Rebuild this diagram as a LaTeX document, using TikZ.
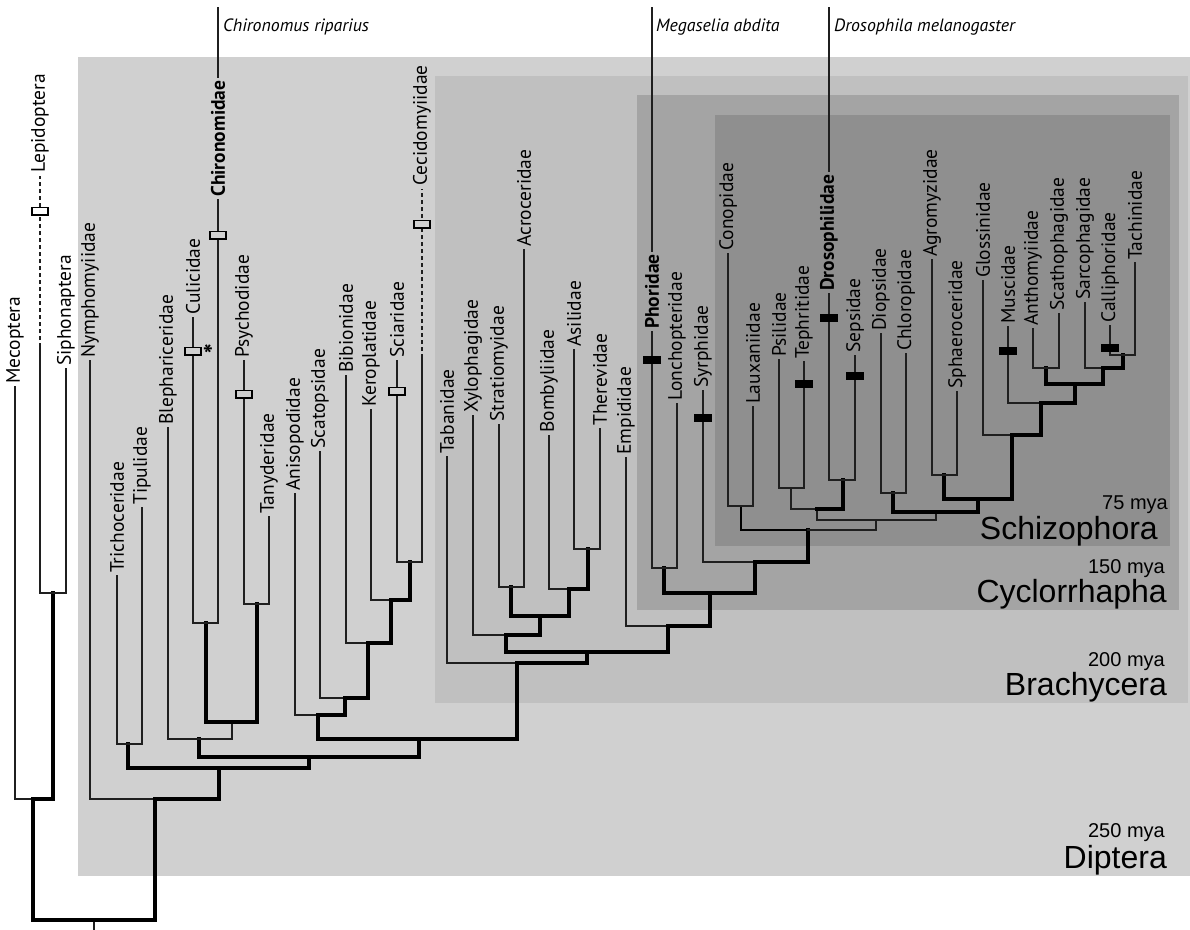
\documentclass[tikz,border=0pt]{standalone}
\usepackage{fontspec}
\setmainfont{PT Sans}
\newfontfamily\arialf{Liberation Sans}
\definecolor{cDip}{HTML}{D0D0D0}
\definecolor{cBra}{HTML}{C0C0C0}
\definecolor{cCyc}{HTML}{A4A4A4}
\definecolor{cSch}{HTML}{8F8F8F}
\begin{document}
\begin{tikzpicture}[x=1pt,y=-1pt,
  tn/.style={line width=1.15pt, draw=black!88, line cap=rect, line join=miter},
  tk/.style={line width=3.6pt, draw=black, line cap=rect, line join=miter},
  md/.style={line width=1.9pt, draw=black, line cap=rect, line join=miter},
  dsh/.style={line width=1.15pt, draw=black!88, dash pattern=on 4pt off 3pt},
  leaf/.style={rotate=90, anchor=west, inner sep=0pt, inner xsep=3pt, font=\fontsize{19.5}{21}\selectfont},
  bleaf/.style={leaf, font=\fontsize{19.5}{21}\selectfont\bfseries},
  species/.style={anchor=base west, inner sep=0pt, font=\fontsize{17.8}{20}\selectfont\itshape},
  obox/.style={draw=black, line width=1.5pt, fill=cDip, minimum width=16pt, minimum height=7.5pt, inner sep=0pt},
  fbox/.style={fill=black, minimum width=18pt, minimum height=8.5pt, inner sep=0pt},
  mya/.style={anchor=base east, inner sep=0pt, font=\arialf\fontsize{20}{22}\selectfont},
  clade/.style={anchor=base east, inner sep=0pt, font=\arialf\fontsize{32}{34}\selectfont}
]
\useasboundingbox (0,0) rectangle (1190,929);
% background clade boxes
\fill[cDip] (78,57) rectangle (1190,876);
\fill[cBra] (435,76) rectangle (1188,703);
\fill[cCyc] (637,95) rectangle (1179,610);
\fill[cSch] (715,115) rectangle (1170,546);

% clade labels
\node[mya] (m75) at (1168,509) {75 mya};
\node[clade] (lSch) at (1158,539) {Schizophora};
\node[mya] (m150) at (1165,573) {150 mya};
\node[clade] (lCyc) at (1167,602) {Cyclorrhapha};
\node[mya] (m200) at (1165,666) {200 mya};
\node[clade] (lBra) at (1167,695) {Brachycera};
\node[mya] (m250) at (1165,837) {250 mya};
\node[clade] (lDip) at (1167,868) {Diptera};

% leaves
\node[leaf] (Mec) at (15,387) {Mecoptera};
\node[leaf] (Lep) at (40,176) {Lepidoptera};
\node[leaf] (Sip) at (66,369) {Siphonaptera};
\node[leaf] (Nym) at (90,361) {Nymphomyiidae};
\node[leaf] (Tri) at (117,576) {Trichoceridae};
\node[leaf] (Tip) at (142,508) {Tipulidae};
\node[leaf] (Ble) at (168,428) {Blephariceridae};
\node[leaf] (Cul) at (193,318) {Culicidae};
\node[bleaf] (Chi) at (218,200) {Chironomidae};
\node[leaf] (Psy) at (244,361) {Psychodidae};
\node[leaf] (Tan) at (269,517) {Tanyderidae};
\node[leaf] (Ani) at (295,494) {Anisopodidae};
\node[leaf] (Sca) at (320,452) {Scatopsidae};
\node[leaf] (Bib) at (346,376) {Bibionidae};
\node[leaf] (Ker) at (371,410) {Keroplatidae};
\node[leaf] (Sci) at (397,361) {Sciaridae};
\node[leaf] (Cec) at (422,189) {Cecidomyiidae};
\node[leaf] (Tab) at (447,457) {Tabanidae};
\node[leaf] (Xyl) at (473,416) {Xylophagidae};
\node[leaf] (Str) at (499,425) {Stratiomyidae};
\node[leaf] (Acr) at (524,250) {Acroceridae};
\node[leaf] (Bom) at (549,436) {Bombyliidae};
\node[leaf] (Asi) at (574,350) {Asilidae};
\node[leaf] (The) at (600,429) {Therevidae};
\node[leaf] (Emp) at (626,458) {Empididae};
\node[bleaf] (Pho) at (652,332) {Phoridae};
\node[leaf] (Lon) at (677,404) {Lonchopteridae};
\node[leaf] (Syr) at (703,391) {Syrphidae};
\node[leaf] (Con) at (728,254) {Conopidae};
\node[leaf] (Lau) at (753,407) {Lauxaniidae};
\node[leaf] (Psi) at (779,360) {Psilidae};
\node[leaf] (Tep) at (804,362) {Tephritidae};
\node[bleaf] (Dro) at (829,294) {Drosophilidae};
\node[leaf] (Sep) at (855,356) {Sepsidae};
\node[leaf] (Dio) at (881,334) {Diopsidae};
\node[leaf] (Chl) at (906,354) {Chloropidae};
\node[leaf] (Agr) at (932,260) {Agromyzidae};
\node[leaf] (Sph) at (957,392) {Sphaeroceridae};
\node[leaf] (Glo) at (983,281) {Glossinidae};
\node[leaf] (Mus) at (1008,327) {Muscidae};
\node[leaf] (Ant) at (1033,329) {Anthomyiidae};
\node[leaf] (Sct) at (1059,314) {Scathophagidae};
\node[leaf] (Sar) at (1085,303) {Sarcophagidae};
\node[leaf] (Cal) at (1110,326) {Calliphoridae};
\node[leaf] (Tac) at (1135,263) {Tachinidae};

% species names
\node[species] (spChi) at (223,31) {Chironomus riparius};
\node[species] (spMeg) at (656,31) {Megaselia abdita};
\node[species] (spDro) at (834,31) {Drosophila melanogaster};
\coordinate (chiTop) at (218,8);
\coordinate (megTop) at (652,8);
\coordinate (droTop) at (829,8);
\draw[tn] (Chi.east) -- (chiTop);
\draw[tn] (Pho.east) -- (megTop);
\draw[tn] (Dro.east) -- (droTop);

% internal nodes (drop x, bar y)
\coordinate (R) at (94,920);
\coordinate (tick) at (94,929);
\coordinate (O) at (33,799);
\coordinate (SL) at (53,593);
\coordinate (D) at (155,799);
\coordinate (N1) at (219,768);
\coordinate (TT) at (128,744);
\coordinate (N2) at (309,757);
\coordinate (BC) at (199,739);
\coordinate (CP) at (232,722);
\coordinate (CC) at (206,623);
\coordinate (PT) at (257,604);
\coordinate (N3) at (419,739);
\coordinate (AN) at (318,715);
\coordinate (SC) at (345,698);
\coordinate (BI) at (368,643);
\coordinate (KE) at (391,600);
\coordinate (SCC) at (410,562);
\coordinate (BR) at (517,663);
\coordinate (B1) at (587,652);
\coordinate (B2) at (506,635);
\coordinate (B3) at (540,616);
\coordinate (SA) at (511,587);
\coordinate (BA) at (569,589);
\coordinate (AT) at (588,549);
\coordinate (B5) at (668,626);
\coordinate (CY) at (710,593);
\coordinate (PL) at (664,568);
\coordinate (C2) at (755,562);
\coordinate (SZ) at (808,530);
\coordinate (CL) at (741,506);
\coordinate (S2) at (876,520);
\coordinate (S3) at (817,509);
\coordinate (PT2) at (791,488);
\coordinate (DS) at (843,480);
\coordinate (S4) at (936,512);
\coordinate (DC) at (893,493);
\coordinate (S5) at (978,499);
\coordinate (AS) at (944,475);
\coordinate (S6) at (1012,435);
\coordinate (S7) at (1041,403);
\coordinate (S8) at (1075,384);
\coordinate (AnS) at (1046,368);
\coordinate (S9) at (1103,368);
\coordinate (CT) at (1123,355);
\coordinate (lepMid) at (40,347);
\coordinate (cecMid) at (422,358);

% edges
\draw[tn] (R) -- (tick);
\draw[tk] (R) -| (O);
\draw[tk] (R) -| (D);
\draw[tn] (O) -| (Mec.west);
\draw[tk] (O) -| (SL);
\draw[tn] (SL) -| (lepMid);
\draw[dsh] (lepMid) -- (Lep.west);
\draw[tn] (SL) -| (Sip.west);
\draw[tn] (D) -| (Nym.west);
\draw[tk] (D) -| (N1);
\draw[tk] (N1) -| (TT);
\draw[tn] (TT) -| (Tri.west);
\draw[tn] (TT) -| (Tip.west);
\draw[tk] (N1) -| (N2);
\draw[tk] (N2) -| (BC);
\draw[tn] (BC) -| (Ble.west);
\draw[tn] (BC) -| (CP);
\draw[tk] (CP) -| (CC);
\draw[tk] (CP) -| (PT);
\draw[tn] (CC) -| (Cul.west);
\draw[tn] (CC) -| (Chi.west);
\draw[tn] (PT) -| (Psy.west);
\draw[tn] (PT) -| (Tan.west);
\draw[tk] (N2) -| (N3);
\draw[tk] (N3) -| (AN);
\draw[tn] (AN) -| (Ani.west);
\draw[tk] (AN) -| (SC);
\draw[tn] (SC) -| (Sca.west);
\draw[tk] (SC) -| (BI);
\draw[tn] (BI) -| (Bib.west);
\draw[tk] (BI) -| (KE);
\draw[tn] (KE) -| (Ker.west);
\draw[tk] (KE) -| (SCC);
\draw[tn] (SCC) -| (Sci.west);
\draw[tn] (SCC) -| (cecMid);
\draw[dsh] (cecMid) -- (Cec.west);
\draw[tk] (N3) -| (BR);
\draw[tn] (BR) -| (Tab.west);
\draw[tk] (BR) -| (B1);
\draw[tk] (B1) -| (B2);
\draw[tn] (B2) -| (Xyl.west);
\draw[tk] (B2) -| (B3);
\draw[tk] (B3) -| (SA);
\draw[tn] (SA) -| (Str.west);
\draw[tn] (SA) -| (Acr.west);
\draw[tk] (B3) -| (BA);
\draw[tn] (BA) -| (Bom.west);
\draw[tk] (BA) -| (AT);
\draw[tn] (AT) -| (Asi.west);
\draw[tn] (AT) -| (The.west);
\draw[tk] (B1) -| (B5);
\draw[tn] (B5) -| (Emp.west);
\draw[tk] (B5) -| (CY);
\draw[tk] (CY) -| (PL);
\draw[tn] (PL) -| (Pho.west);
\draw[tn] (PL) -| (Lon.west);
\draw[tk] (CY) -| (C2);
\draw[tn] (C2) -| (Syr.west);
\draw[tk] (C2) -| (SZ);
\draw[md] (SZ) -| (CL);
\draw[tn] (CL) -| (Con.west);
\draw[tn] (CL) -| (Lau.west);
\draw[tn] (SZ) -| (S2);
\draw[tn] (S2) -| (S3);
\draw[tn] (S3) -| (PT2);
\draw[tn] (PT2) -| (Psi.west);
\draw[tn] (PT2) -| (Tep.west);
\draw[tk] (S3) -| (DS);
\draw[tn] (DS) -| (Dro.west);
\draw[tn] (DS) -| (Sep.west);
\draw[tn] (S2) -| (S4);
\draw[tk] (S4) -| (DC);
\draw[tn] (DC) -| (Dio.west);
\draw[tn] (DC) -| (Chl.west);
\draw[tk] (S4) -| (S5);
\draw[tk] (S5) -| (AS);
\draw[tn] (AS) -| (Agr.west);
\draw[tn] (AS) -| (Sph.west);
\draw[tk] (S5) -| (S6);
\draw[tn] (S6) -| (Glo.west);
\draw[tk] (S6) -| (S7);
\draw[tn] (S7) -| (Mus.west);
\draw[tk] (S7) -| (S8);
\draw[tk] (S8) -| (AnS);
\draw[tn] (AnS) -| (Ant.west);
\draw[tn] (AnS) -| (Sct.west);
\draw[tk] (S8) -| (S9);
\draw[tn] (S9) -| (Sar.west);
\draw[tk] (S9) -| (CT);
\draw[tn] (CT) -| (Cal.west);
\draw[tn] (CT) -| (Tac.west);

% character boxes
\node[obox, fill=white] (bLep) at (40,211) {};
\node[obox] (bCul) at (193,351) {};
\node[obox] (bChi) at (218,235) {};
\node[obox] (bPsy) at (244,394) {};
\node[obox] (bSci) at (397,391) {};
\node[obox] (bCec) at (422,224) {};
\node[inner sep=0pt, font=\fontsize{27}{27}\selectfont\bfseries] (ast) at (208,355) {*};
\node[fbox] (bPho) at (652,360) {};
\node[fbox] (bSyr) at (703,418) {};
\node[fbox] (bTep) at (804,384) {};
\node[fbox] (bDro) at (829,318) {};
\node[fbox] (bSep) at (855,376) {};
\node[fbox] (bMus) at (1008,351) {};
\node[fbox] (bCal) at (1110,348) {};
\end{tikzpicture}
\end{document}
